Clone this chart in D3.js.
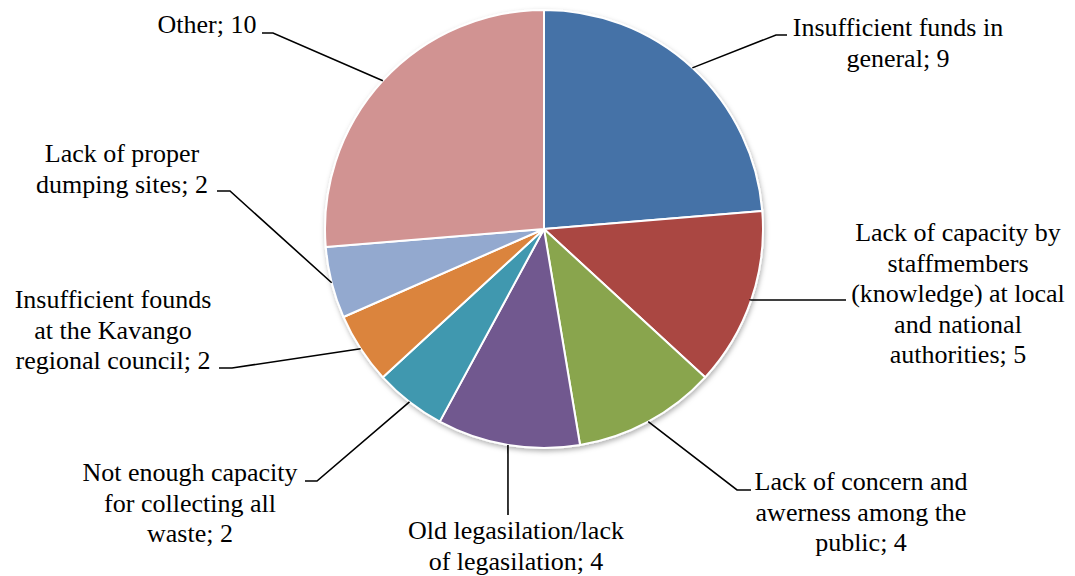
<!DOCTYPE html>
<html>
<head>
<meta charset="utf-8">
<script src="https://cdn.jsdelivr.net/npm/d3@7"></script>
<style>
  html, body { margin: 0; padding: 0; background: #fff; }
  svg text { font-family: "Liberation Serif", "Times New Roman", Times, Tinos, "DejaVu Serif", "Noto Serif", serif; font-size: 26px; fill: #000; }
</style>
</head>
<body>
<svg id="chart" width="1075" height="576"></svg>
<script>
// ---- data ----
const categories = [
  "Insufficient funds in general",
  "Lack of capacity by staffmembers (knowledge) at local and national authorities",
  "Lack of concern and awerness among the public",
  "Old legasilation/lack of legasilation",
  "Not enough capacity for collecting all waste",
  "Insufficient founds at the Kavango regional council",
  "Lack of proper dumping sites",
  "Other"
];
const values = [9, 5, 4, 4, 2, 2, 2, 10];
const labelLines = [
  ["Insufficient funds in", "general; 9"],
  ["Lack of capacity by", "staffmembers", "(knowledge) at local", "and national", "authorities; 5"],
  ["Lack of concern and", "awerness among the", "public; 4"],
  ["Old legasilation/lack", "of legasilation; 4"],
  ["Not enough capacity", "for collecting all", "waste; 2"],
  ["Insufficient founds", "at the Kavango", "regional council; 2"],
  ["Lack of proper", "dumping sites; 2"],
  ["Other; 10"]
];
const colors = ["#4572A7", "#AA4643", "#89A54E", "#71588F", "#4198AF", "#DB843D", "#93A9CF", "#D19392"];

// ---- layout (label placement, not data) ----
const cx = 544, cy = 229, R = 219, lineH = 30.5;
const labelLayout = [
  { tx: 898, ty: 36,  ex: 776, ey: 35,  endX: 787 },
  { tx: 958, ty: 241, ex: 751, ey: 300, endX: 846 },
  { tx: 861, ty: 490, ex: 737, ey: 490, endX: 751 },
  { tx: 516, ty: 539, ex: 508, ey: 515, endX: 508 },
  { tx: 190, ty: 481, ex: 317, ey: 481, endX: 305 },
  { tx: 113, ty: 308, ex: 232, ey: 368, endX: 219 },
  { tx: 122, ty: 162, ex: 230, ey: 191, endX: 217 },
  { tx: 207, ty: 33,  ex: 273, ey: 33,  endX: 262 }
];

const svg = d3.select("#chart");
const defs = svg.append("defs");
const f = defs.append("filter").attr("id", "shadow").attr("x", "-10%").attr("y", "-10%").attr("width", "120%").attr("height", "120%");
f.append("feDropShadow").attr("dx", 1).attr("dy", 2.5).attr("stdDeviation", 2.5).attr("flood-color", "#000").attr("flood-opacity", 0.3);

const pie = d3.pie().value(d => d).sort(null);
const arcs = pie(values);
const arc = d3.arc().innerRadius(0).outerRadius(R);
const edgeArc = d3.arc().innerRadius(R).outerRadius(R);

const g = svg.append("g").attr("transform", `translate(${cx},${cy})`);
g.append("g").attr("filter", "url(#shadow)")
  .selectAll("path").data(arcs).join("path")
  .attr("d", arc)
  .attr("fill", (d, i) => colors[i])
  .attr("stroke", "#fff")
  .attr("stroke-width", 2)
  .attr("stroke-linejoin", "round");

svg.append("g").selectAll("path").data(arcs).join("path")
  .attr("d", (d, i) => {
    const [px, py] = edgeArc.centroid(d);
    const L = labelLayout[i];
    return `M${cx + px},${cy + py}L${L.ex},${L.ey}L${L.endX},${L.ey}`;
  })
  .attr("fill", "none")
  .attr("stroke", "#000")
  .attr("stroke-width", 1.6);

const labels = svg.append("g").selectAll("text").data(arcs).join("text")
  .attr("text-anchor", "middle")
  .attr("x", (d, i) => labelLayout[i].tx)
  .attr("y", (d, i) => labelLayout[i].ty);
labels.each(function(d, i) {
  d3.select(this).selectAll("tspan").data(labelLines[i]).join("tspan")
    .attr("x", labelLayout[i].tx)
    .attr("dy", (t, j) => j === 0 ? 0 : lineH)
    .text(t => t);
});
</script>
</body>
</html>
